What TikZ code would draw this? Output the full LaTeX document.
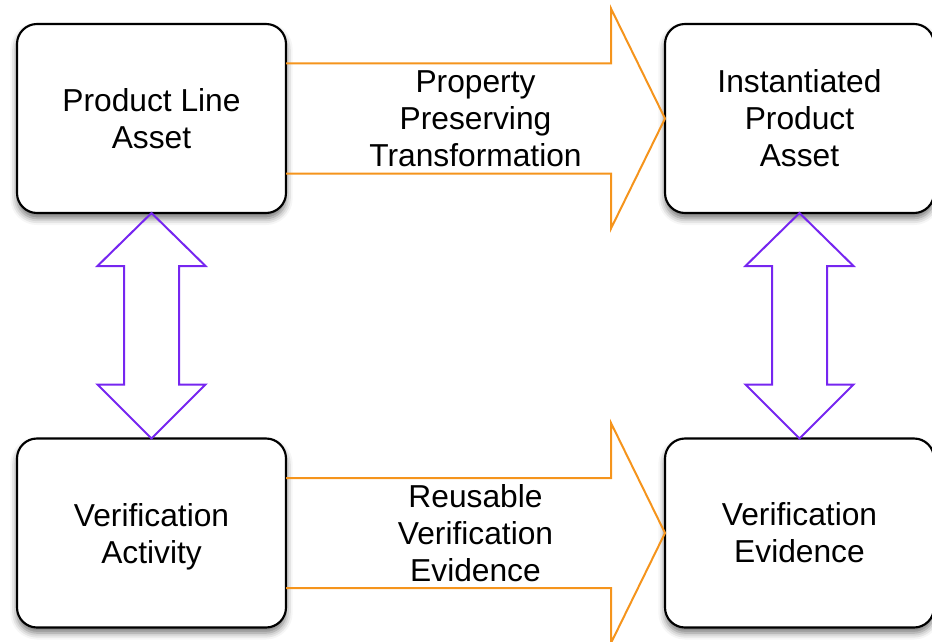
\documentclass[tikz,border=0pt]{standalone}
\usepackage{fontspec}
\setmainfont{Liberation Sans}
\usetikzlibrary{calc,shadows.blur}
\definecolor{flowline}{RGB}{245,148,28}
\definecolor{linkline}{RGB}{118,38,240}

\tikzset{
  asset/.style={draw=black, line width=1.6pt, rounded corners=15pt, fill=white,
    minimum width=201.75pt, minimum height=141.75pt, inner sep=0pt, outer sep=0pt,
    align=center, font=\fontsize{23.8}{27.75}\selectfont,
    blur shadow={shadow xshift=0pt, shadow yshift=-4pt, shadow blur radius=5pt, shadow opacity=55}},
  flowarrow/.style={draw=flowline, line width=1.5pt, line join=miter},
  linkarrow/.style={draw=linkline, line width=1.5pt, line join=miter},
  label/.style={align=center, font=\fontsize{23.8}{27.75}\selectfont, inner sep=0pt}
}

% wide open-ended arrow from the east side of #1 to the west side of #2
\newcommand\flowshape[2]{%
  \draw[flowarrow] ($(#1.east)+(0,-55)$) -- ($(#2.west)+(-54,-55)$)
    -- ($(#2.west)+(-54,-110)$) -- (#2.west) -- ($(#2.west)+(-54,110)$)
    -- ($(#2.west)+(-54,55)$) -- ($(#1.east)+(0,55)$);
}
% double-headed link from the south side of #1 to the north side of #2
\newcommand\linkshape[2]{%
  \draw[linkarrow] (#1.south) -- ($(#1.south)+(54,53)$) -- ($(#1.south)+(27.5,53)$)
    -- ($(#2.north)+(27.5,-54)$) -- ($(#2.north)+(54,-54)$) -- (#2.north)
    -- ($(#2.north)+(-54,-54)$) -- ($(#2.north)+(-27.5,-54)$)
    -- ($(#1.south)+(-27.5,53)$) -- ($(#1.south)+(-54,53)$) -- cycle;
}

\begin{document}
\begin{tikzpicture}[x=0.75pt,y=-0.75pt]
\useasboundingbox (0,0) rectangle (932,642);

\node[asset] (pla) at (151.5,118.5) {Product Line\\Asset};
\node[asset] (ipa) at (799.5,118.5) {Instantiated\\Product\\Asset};
\node[asset] (va)  at (151.5,533)   {Verification\\\smash{Activity}};
\node[asset] (ve)  at (799.5,533)   {Verification\\Evidence};

\flowshape{pla}{ipa}
\flowshape{va}{ve}
\linkshape{pla}{va}
\linkshape{ipa}{ve}

\node[label] (ppt) at ($(pla.east)!0.5!(ipa.west)$) {Property\\Preserving\\Transformation};
\node[label] (rve) at ($(va.east)!0.5!(ve.west)$) {Reusable\\Verification\\Evidence};
\end{tikzpicture}
\end{document}
